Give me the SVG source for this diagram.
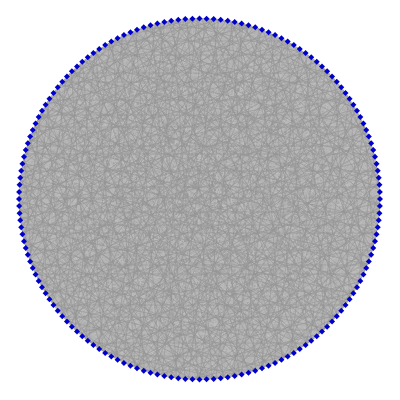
<svg xmlns="http://www.w3.org/2000/svg" xmlns:xlink="http://www.w3.org/1999/xlink" width="400" height="400" viewBox="0 0 400 400">
<style>
.dk{stroke:#949494;stroke-width:0.55;fill:none}
.lt{stroke:#bebebe;stroke-width:0.7;fill:none}
.md{stroke:#b4b4b4;stroke-width:0.9;fill:none}
.nd{fill:#0000cc}
</style>
<defs>
<clipPath id="cc"><circle cx="0" cy="0" r="180.5"/></clipPath>
<radialGradient id="bg" cx="0.5" cy="0.5" r="0.5">
<stop offset="0" stop-color="#a0a0a0"/>
<stop offset="0.7" stop-color="#a5a5a5"/>
<stop offset="1" stop-color="#b2b2b2"/>
</radialGradient>
<path id="d" class="nd" d="M0-3L3 0L0 3L-3 0Z"/>
<path id="sa" class="dk" d="M-190-176H190M-190-163H190M-190-149H190M-190-131H190M-190-122H190M-190-104H190M-190-89H190M-190-77H190M-190-58H190M-190-50H190M-190-33H190M-190-17H190M-190-6H190M-190 8H190M-190 21H190M-190 29H190M-190 46H190M-190 61H190M-190 70H190M-190 87H190M-190 101H190M-190 113H190M-190 126H190M-190 139H190M-190 152H190M-190 166H190M-190 173H190"/>
<path id="sb" class="lt" d="M-190-172H190M-190-158H190M-190-137H190M-190-126H190M-190-111H190M-190-96H190M-190-71H190M-190-64H190M-190-41H190M-190-26H190M-190-12H190M-190 1H190M-190 16H190M-190 35H190M-190 42H190M-190 57H190M-190 79H190M-190 93H190M-190 106H190M-190 119H190M-190 131H190M-190 145H190M-190 161H190M-190 178H190"/>
<path id="sc" class="md" d="M-190-168H190M-190-143H190M-190-115H190M-190-83H190M-190-62H190M-190-38H190M-190-2H190M-190 24H190M-190 52H190M-190 83H190M-190 116H190M-190 148H190M-190 170H190"/>
</defs>
<circle cx="199.5" cy="199" r="180.5" fill="url(#bg)"/>
<g id="edges" transform="translate(199.5,199)" clip-path="url(#cc)">
<use href="#sb" transform="rotate(6) translate(0,3)"/><use href="#sb" transform="rotate(21) translate(0,-7)"/><use href="#sb" transform="rotate(34) translate(0,11)"/><use href="#sb" transform="rotate(49) translate(0,-2)"/><use href="#sb" transform="rotate(63) translate(0,6)"/><use href="#sb" transform="rotate(77) translate(0,-10)"/><use href="#sb" transform="rotate(91) translate(0,9)"/><use href="#sb" transform="rotate(104) translate(0,-5)"/><use href="#sb" transform="rotate(119) translate(0,1)"/><use href="#sb" transform="rotate(134) translate(0,-12)"/><use href="#sb" transform="rotate(157) translate(0,4)"/><use href="#sb" transform="rotate(172) translate(0,-8)"/>
<use href="#sb" transform="rotate(191) translate(0,5)"/><use href="#sb" transform="rotate(226) translate(0,-4)"/><use href="#sb" transform="rotate(263) translate(0,12)"/><use href="#sb" transform="rotate(302) translate(0,-9)"/><use href="#sb" transform="rotate(338) translate(0,7)"/>
<use href="#sc" transform="rotate(3) translate(0,-4)"/><use href="#sc" transform="rotate(17) translate(0,8)"/><use href="#sc" transform="rotate(38) translate(0,-11)"/><use href="#sc" transform="rotate(53) translate(0,2)"/><use href="#sc" transform="rotate(67) translate(0,-6)"/><use href="#sc" transform="rotate(82) translate(0,10)"/><use href="#sc" transform="rotate(101) translate(0,-3)"/><use href="#sc" transform="rotate(116) translate(0,7)"/><use href="#sc" transform="rotate(138) translate(0,-9)"/><use href="#sc" transform="rotate(147) translate(0,5)"/><use href="#sc" transform="rotate(161) translate(0,-1)"/><use href="#sc" transform="rotate(177) translate(0,12)"/>
<use href="#sa" transform="rotate(0) translate(0,5)"/><use href="#sa" transform="rotate(13) translate(0,-3)"/><use href="#sa" transform="rotate(29) translate(0,9)"/><use href="#sa" transform="rotate(41) translate(0,-8)"/><use href="#sa" transform="rotate(58) translate(0,2)"/><use href="#sa" transform="rotate(71) translate(0,-11)"/><use href="#sa" transform="rotate(86) translate(0,6)"/><use href="#sa" transform="rotate(97) translate(0,-5)"/><use href="#sa" transform="rotate(112) translate(0,11)"/><use href="#sa" transform="rotate(127) translate(0,-1)"/><use href="#sa" transform="rotate(143) translate(0,8)"/><use href="#sa" transform="rotate(151) translate(0,-6)"/><use href="#sa" transform="rotate(166) translate(0,3)"/>
</g>
<g id="nodes" transform="translate(199.5,199)">
<g id="n0"><use href="#d" transform="rotate(0) translate(0,-180.5) rotate(0)"/></g>
<g id="n1"><use href="#d" transform="rotate(2.25) translate(0,-180.5) rotate(-2.25)"/></g>
<g id="n2"><use href="#d" transform="rotate(4.5) translate(0,-180.5) rotate(-4.5)"/></g>
<g id="n3"><use href="#d" transform="rotate(6.75) translate(0,-180.5) rotate(-6.75)"/></g>
<g id="n4"><use href="#d" transform="rotate(9) translate(0,-180.5) rotate(-9)"/></g>
<g id="n5"><use href="#d" transform="rotate(11.25) translate(0,-180.5) rotate(-11.25)"/></g>
<g id="n6"><use href="#d" transform="rotate(13.5) translate(0,-180.5) rotate(-13.5)"/></g>
<g id="n7"><use href="#d" transform="rotate(15.75) translate(0,-180.5) rotate(-15.75)"/></g>
<g id="n8"><use href="#d" transform="rotate(18) translate(0,-180.5) rotate(-18)"/></g>
<g id="n9"><use href="#d" transform="rotate(20.25) translate(0,-180.5) rotate(-20.25)"/></g>
<g id="n10"><use href="#d" transform="rotate(22.5) translate(0,-180.5) rotate(-22.5)"/></g>
<g id="n11"><use href="#d" transform="rotate(24.75) translate(0,-180.5) rotate(-24.75)"/></g>
<g id="n12"><use href="#d" transform="rotate(27) translate(0,-180.5) rotate(-27)"/></g>
<g id="n13"><use href="#d" transform="rotate(29.25) translate(0,-180.5) rotate(-29.25)"/></g>
<g id="n14"><use href="#d" transform="rotate(31.5) translate(0,-180.5) rotate(-31.5)"/></g>
<g id="n15"><use href="#d" transform="rotate(33.75) translate(0,-180.5) rotate(-33.75)"/></g>
<g id="n16"><use href="#d" transform="rotate(36) translate(0,-180.5) rotate(-36)"/></g>
<g id="n17"><use href="#d" transform="rotate(38.25) translate(0,-180.5) rotate(-38.25)"/></g>
<g id="n18"><use href="#d" transform="rotate(40.5) translate(0,-180.5) rotate(-40.5)"/></g>
<g id="n19"><use href="#d" transform="rotate(42.75) translate(0,-180.5) rotate(-42.75)"/></g>
<g id="n20"><use href="#d" transform="rotate(45) translate(0,-180.5) rotate(-45)"/></g>
<g id="n21"><use href="#d" transform="rotate(47.25) translate(0,-180.5) rotate(-47.25)"/></g>
<g id="n22"><use href="#d" transform="rotate(49.5) translate(0,-180.5) rotate(-49.5)"/></g>
<g id="n23"><use href="#d" transform="rotate(51.75) translate(0,-180.5) rotate(-51.75)"/></g>
<g id="n24"><use href="#d" transform="rotate(54) translate(0,-180.5) rotate(-54)"/></g>
<g id="n25"><use href="#d" transform="rotate(56.25) translate(0,-180.5) rotate(-56.25)"/></g>
<g id="n26"><use href="#d" transform="rotate(58.5) translate(0,-180.5) rotate(-58.5)"/></g>
<g id="n27"><use href="#d" transform="rotate(60.75) translate(0,-180.5) rotate(-60.75)"/></g>
<g id="n28"><use href="#d" transform="rotate(63) translate(0,-180.5) rotate(-63)"/></g>
<g id="n29"><use href="#d" transform="rotate(65.25) translate(0,-180.5) rotate(-65.25)"/></g>
<g id="n30"><use href="#d" transform="rotate(67.5) translate(0,-180.5) rotate(-67.5)"/></g>
<g id="n31"><use href="#d" transform="rotate(69.75) translate(0,-180.5) rotate(-69.75)"/></g>
<g id="n32"><use href="#d" transform="rotate(72) translate(0,-180.5) rotate(-72)"/></g>
<g id="n33"><use href="#d" transform="rotate(74.25) translate(0,-180.5) rotate(-74.25)"/></g>
<g id="n34"><use href="#d" transform="rotate(76.5) translate(0,-180.5) rotate(-76.5)"/></g>
<g id="n35"><use href="#d" transform="rotate(78.75) translate(0,-180.5) rotate(-78.75)"/></g>
<g id="n36"><use href="#d" transform="rotate(81) translate(0,-180.5) rotate(-81)"/></g>
<g id="n37"><use href="#d" transform="rotate(83.25) translate(0,-180.5) rotate(-83.25)"/></g>
<g id="n38"><use href="#d" transform="rotate(85.5) translate(0,-180.5) rotate(-85.5)"/></g>
<g id="n39"><use href="#d" transform="rotate(87.75) translate(0,-180.5) rotate(-87.75)"/></g>
<g id="n40"><use href="#d" transform="rotate(90) translate(0,-180.5) rotate(-90)"/></g>
<g id="n41"><use href="#d" transform="rotate(92.25) translate(0,-180.5) rotate(-92.25)"/></g>
<g id="n42"><use href="#d" transform="rotate(94.5) translate(0,-180.5) rotate(-94.5)"/></g>
<g id="n43"><use href="#d" transform="rotate(96.75) translate(0,-180.5) rotate(-96.75)"/></g>
<g id="n44"><use href="#d" transform="rotate(99) translate(0,-180.5) rotate(-99)"/></g>
<g id="n45"><use href="#d" transform="rotate(101.25) translate(0,-180.5) rotate(-101.25)"/></g>
<g id="n46"><use href="#d" transform="rotate(103.5) translate(0,-180.5) rotate(-103.5)"/></g>
<g id="n47"><use href="#d" transform="rotate(105.75) translate(0,-180.5) rotate(-105.75)"/></g>
<g id="n48"><use href="#d" transform="rotate(108) translate(0,-180.5) rotate(-108)"/></g>
<g id="n49"><use href="#d" transform="rotate(110.25) translate(0,-180.5) rotate(-110.25)"/></g>
<g id="n50"><use href="#d" transform="rotate(112.5) translate(0,-180.5) rotate(-112.5)"/></g>
<g id="n51"><use href="#d" transform="rotate(114.75) translate(0,-180.5) rotate(-114.75)"/></g>
<g id="n52"><use href="#d" transform="rotate(117) translate(0,-180.5) rotate(-117)"/></g>
<g id="n53"><use href="#d" transform="rotate(119.25) translate(0,-180.5) rotate(-119.25)"/></g>
<g id="n54"><use href="#d" transform="rotate(121.5) translate(0,-180.5) rotate(-121.5)"/></g>
<g id="n55"><use href="#d" transform="rotate(123.75) translate(0,-180.5) rotate(-123.75)"/></g>
<g id="n56"><use href="#d" transform="rotate(126) translate(0,-180.5) rotate(-126)"/></g>
<g id="n57"><use href="#d" transform="rotate(128.25) translate(0,-180.5) rotate(-128.25)"/></g>
<g id="n58"><use href="#d" transform="rotate(130.5) translate(0,-180.5) rotate(-130.5)"/></g>
<g id="n59"><use href="#d" transform="rotate(132.75) translate(0,-180.5) rotate(-132.75)"/></g>
<g id="n60"><use href="#d" transform="rotate(135) translate(0,-180.5) rotate(-135)"/></g>
<g id="n61"><use href="#d" transform="rotate(137.25) translate(0,-180.5) rotate(-137.25)"/></g>
<g id="n62"><use href="#d" transform="rotate(139.5) translate(0,-180.5) rotate(-139.5)"/></g>
<g id="n63"><use href="#d" transform="rotate(141.75) translate(0,-180.5) rotate(-141.75)"/></g>
<g id="n64"><use href="#d" transform="rotate(144) translate(0,-180.5) rotate(-144)"/></g>
<g id="n65"><use href="#d" transform="rotate(146.25) translate(0,-180.5) rotate(-146.25)"/></g>
<g id="n66"><use href="#d" transform="rotate(148.5) translate(0,-180.5) rotate(-148.5)"/></g>
<g id="n67"><use href="#d" transform="rotate(150.75) translate(0,-180.5) rotate(-150.75)"/></g>
<g id="n68"><use href="#d" transform="rotate(153) translate(0,-180.5) rotate(-153)"/></g>
<g id="n69"><use href="#d" transform="rotate(155.25) translate(0,-180.5) rotate(-155.25)"/></g>
<g id="n70"><use href="#d" transform="rotate(157.5) translate(0,-180.5) rotate(-157.5)"/></g>
<g id="n71"><use href="#d" transform="rotate(159.75) translate(0,-180.5) rotate(-159.75)"/></g>
<g id="n72"><use href="#d" transform="rotate(162) translate(0,-180.5) rotate(-162)"/></g>
<g id="n73"><use href="#d" transform="rotate(164.25) translate(0,-180.5) rotate(-164.25)"/></g>
<g id="n74"><use href="#d" transform="rotate(166.5) translate(0,-180.5) rotate(-166.5)"/></g>
<g id="n75"><use href="#d" transform="rotate(168.75) translate(0,-180.5) rotate(-168.75)"/></g>
<g id="n76"><use href="#d" transform="rotate(171) translate(0,-180.5) rotate(-171)"/></g>
<g id="n77"><use href="#d" transform="rotate(173.25) translate(0,-180.5) rotate(-173.25)"/></g>
<g id="n78"><use href="#d" transform="rotate(175.5) translate(0,-180.5) rotate(-175.5)"/></g>
<g id="n79"><use href="#d" transform="rotate(177.75) translate(0,-180.5) rotate(-177.75)"/></g>
<g id="n80"><use href="#d" transform="rotate(180) translate(0,-180.5) rotate(-180)"/></g>
<g id="n81"><use href="#d" transform="rotate(182.25) translate(0,-180.5) rotate(-182.25)"/></g>
<g id="n82"><use href="#d" transform="rotate(184.5) translate(0,-180.5) rotate(-184.5)"/></g>
<g id="n83"><use href="#d" transform="rotate(186.75) translate(0,-180.5) rotate(-186.75)"/></g>
<g id="n84"><use href="#d" transform="rotate(189) translate(0,-180.5) rotate(-189)"/></g>
<g id="n85"><use href="#d" transform="rotate(191.25) translate(0,-180.5) rotate(-191.25)"/></g>
<g id="n86"><use href="#d" transform="rotate(193.5) translate(0,-180.5) rotate(-193.5)"/></g>
<g id="n87"><use href="#d" transform="rotate(195.75) translate(0,-180.5) rotate(-195.75)"/></g>
<g id="n88"><use href="#d" transform="rotate(198) translate(0,-180.5) rotate(-198)"/></g>
<g id="n89"><use href="#d" transform="rotate(200.25) translate(0,-180.5) rotate(-200.25)"/></g>
<g id="n90"><use href="#d" transform="rotate(202.5) translate(0,-180.5) rotate(-202.5)"/></g>
<g id="n91"><use href="#d" transform="rotate(204.75) translate(0,-180.5) rotate(-204.75)"/></g>
<g id="n92"><use href="#d" transform="rotate(207) translate(0,-180.5) rotate(-207)"/></g>
<g id="n93"><use href="#d" transform="rotate(209.25) translate(0,-180.5) rotate(-209.25)"/></g>
<g id="n94"><use href="#d" transform="rotate(211.5) translate(0,-180.5) rotate(-211.5)"/></g>
<g id="n95"><use href="#d" transform="rotate(213.75) translate(0,-180.5) rotate(-213.75)"/></g>
<g id="n96"><use href="#d" transform="rotate(216) translate(0,-180.5) rotate(-216)"/></g>
<g id="n97"><use href="#d" transform="rotate(218.25) translate(0,-180.5) rotate(-218.25)"/></g>
<g id="n98"><use href="#d" transform="rotate(220.5) translate(0,-180.5) rotate(-220.5)"/></g>
<g id="n99"><use href="#d" transform="rotate(222.75) translate(0,-180.5) rotate(-222.75)"/></g>
<g id="n100"><use href="#d" transform="rotate(225) translate(0,-180.5) rotate(-225)"/></g>
<g id="n101"><use href="#d" transform="rotate(227.25) translate(0,-180.5) rotate(-227.25)"/></g>
<g id="n102"><use href="#d" transform="rotate(229.5) translate(0,-180.5) rotate(-229.5)"/></g>
<g id="n103"><use href="#d" transform="rotate(231.75) translate(0,-180.5) rotate(-231.75)"/></g>
<g id="n104"><use href="#d" transform="rotate(234) translate(0,-180.5) rotate(-234)"/></g>
<g id="n105"><use href="#d" transform="rotate(236.25) translate(0,-180.5) rotate(-236.25)"/></g>
<g id="n106"><use href="#d" transform="rotate(238.5) translate(0,-180.5) rotate(-238.5)"/></g>
<g id="n107"><use href="#d" transform="rotate(240.75) translate(0,-180.5) rotate(-240.75)"/></g>
<g id="n108"><use href="#d" transform="rotate(243) translate(0,-180.5) rotate(-243)"/></g>
<g id="n109"><use href="#d" transform="rotate(245.25) translate(0,-180.5) rotate(-245.25)"/></g>
<g id="n110"><use href="#d" transform="rotate(247.5) translate(0,-180.5) rotate(-247.5)"/></g>
<g id="n111"><use href="#d" transform="rotate(249.75) translate(0,-180.5) rotate(-249.75)"/></g>
<g id="n112"><use href="#d" transform="rotate(252) translate(0,-180.5) rotate(-252)"/></g>
<g id="n113"><use href="#d" transform="rotate(254.25) translate(0,-180.5) rotate(-254.25)"/></g>
<g id="n114"><use href="#d" transform="rotate(256.5) translate(0,-180.5) rotate(-256.5)"/></g>
<g id="n115"><use href="#d" transform="rotate(258.75) translate(0,-180.5) rotate(-258.75)"/></g>
<g id="n116"><use href="#d" transform="rotate(261) translate(0,-180.5) rotate(-261)"/></g>
<g id="n117"><use href="#d" transform="rotate(263.25) translate(0,-180.5) rotate(-263.25)"/></g>
<g id="n118"><use href="#d" transform="rotate(265.5) translate(0,-180.5) rotate(-265.5)"/></g>
<g id="n119"><use href="#d" transform="rotate(267.75) translate(0,-180.5) rotate(-267.75)"/></g>
<g id="n120"><use href="#d" transform="rotate(270) translate(0,-180.5) rotate(-270)"/></g>
<g id="n121"><use href="#d" transform="rotate(272.25) translate(0,-180.5) rotate(-272.25)"/></g>
<g id="n122"><use href="#d" transform="rotate(274.5) translate(0,-180.5) rotate(-274.5)"/></g>
<g id="n123"><use href="#d" transform="rotate(276.75) translate(0,-180.5) rotate(-276.75)"/></g>
<g id="n124"><use href="#d" transform="rotate(279) translate(0,-180.5) rotate(-279)"/></g>
<g id="n125"><use href="#d" transform="rotate(281.25) translate(0,-180.5) rotate(-281.25)"/></g>
<g id="n126"><use href="#d" transform="rotate(283.5) translate(0,-180.5) rotate(-283.5)"/></g>
<g id="n127"><use href="#d" transform="rotate(285.75) translate(0,-180.5) rotate(-285.75)"/></g>
<g id="n128"><use href="#d" transform="rotate(288) translate(0,-180.5) rotate(-288)"/></g>
<g id="n129"><use href="#d" transform="rotate(290.25) translate(0,-180.5) rotate(-290.25)"/></g>
<g id="n130"><use href="#d" transform="rotate(292.5) translate(0,-180.5) rotate(-292.5)"/></g>
<g id="n131"><use href="#d" transform="rotate(294.75) translate(0,-180.5) rotate(-294.75)"/></g>
<g id="n132"><use href="#d" transform="rotate(297) translate(0,-180.5) rotate(-297)"/></g>
<g id="n133"><use href="#d" transform="rotate(299.25) translate(0,-180.5) rotate(-299.25)"/></g>
<g id="n134"><use href="#d" transform="rotate(301.5) translate(0,-180.5) rotate(-301.5)"/></g>
<g id="n135"><use href="#d" transform="rotate(303.75) translate(0,-180.5) rotate(-303.75)"/></g>
<g id="n136"><use href="#d" transform="rotate(306) translate(0,-180.5) rotate(-306)"/></g>
<g id="n137"><use href="#d" transform="rotate(308.25) translate(0,-180.5) rotate(-308.25)"/></g>
<g id="n138"><use href="#d" transform="rotate(310.5) translate(0,-180.5) rotate(-310.5)"/></g>
<g id="n139"><use href="#d" transform="rotate(312.75) translate(0,-180.5) rotate(-312.75)"/></g>
<g id="n140"><use href="#d" transform="rotate(315) translate(0,-180.5) rotate(-315)"/></g>
<g id="n141"><use href="#d" transform="rotate(317.25) translate(0,-180.5) rotate(-317.25)"/></g>
<g id="n142"><use href="#d" transform="rotate(319.5) translate(0,-180.5) rotate(-319.5)"/></g>
<g id="n143"><use href="#d" transform="rotate(321.75) translate(0,-180.5) rotate(-321.75)"/></g>
<g id="n144"><use href="#d" transform="rotate(324) translate(0,-180.5) rotate(-324)"/></g>
<g id="n145"><use href="#d" transform="rotate(326.25) translate(0,-180.5) rotate(-326.25)"/></g>
<g id="n146"><use href="#d" transform="rotate(328.5) translate(0,-180.5) rotate(-328.5)"/></g>
<g id="n147"><use href="#d" transform="rotate(330.75) translate(0,-180.5) rotate(-330.75)"/></g>
<g id="n148"><use href="#d" transform="rotate(333) translate(0,-180.5) rotate(-333)"/></g>
<g id="n149"><use href="#d" transform="rotate(335.25) translate(0,-180.5) rotate(-335.25)"/></g>
<g id="n150"><use href="#d" transform="rotate(337.5) translate(0,-180.5) rotate(-337.5)"/></g>
<g id="n151"><use href="#d" transform="rotate(339.75) translate(0,-180.5) rotate(-339.75)"/></g>
<g id="n152"><use href="#d" transform="rotate(342) translate(0,-180.5) rotate(-342)"/></g>
<g id="n153"><use href="#d" transform="rotate(344.25) translate(0,-180.5) rotate(-344.25)"/></g>
<g id="n154"><use href="#d" transform="rotate(346.5) translate(0,-180.5) rotate(-346.5)"/></g>
<g id="n155"><use href="#d" transform="rotate(348.75) translate(0,-180.5) rotate(-348.75)"/></g>
<g id="n156"><use href="#d" transform="rotate(351) translate(0,-180.5) rotate(-351)"/></g>
<g id="n157"><use href="#d" transform="rotate(353.25) translate(0,-180.5) rotate(-353.25)"/></g>
<g id="n158"><use href="#d" transform="rotate(355.5) translate(0,-180.5) rotate(-355.5)"/></g>
<g id="n159"><use href="#d" transform="rotate(357.75) translate(0,-180.5) rotate(-357.75)"/></g>
</g>
</svg>
